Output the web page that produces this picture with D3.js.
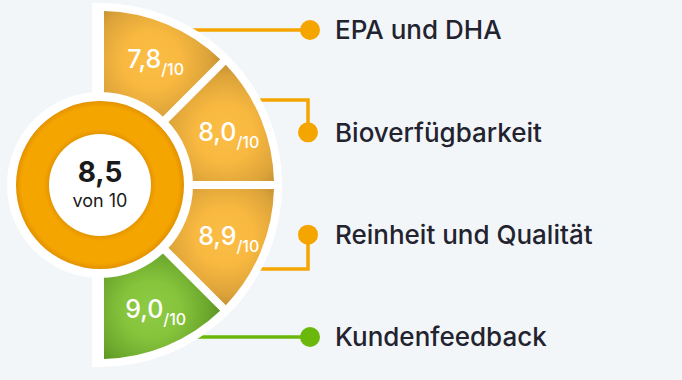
<!DOCTYPE html>
<html>
<head>
<meta charset="utf-8">
<script src="https://cdn.jsdelivr.net/npm/d3@7"></script>
<style>
  html, body { margin: 0; padding: 0; background: #f3f6f9; }
  svg { display: block; font-family: Inter, Roboto, "Noto Sans", sans-serif; }
</style>
</head>
<body>
<svg id="chart" width="682" height="380"></svg>
<script>
// ---- data ----
const categories = ["EPA und DHA", "Bioverfügbarkeit", "Reinheit und Qualität", "Kundenfeedback"];
const scores = [7.8, 8.0, 8.9, 9.0];
const maxScore = 10;
const overallScore = 8.5;
const overallLabel = "von 10";
const highlightCategory = "Kundenfeedback";

// ---- layout ----
const cx = 100, cy = 185;
const rOuter = 174, rInner = 92;
const svg = d3.select("#chart");
const fmt = v => d3.format(".1f")(v).replace(".", ",");

const orangeLine = "#f5a500", greenLine = "#6ab80c";
const isHi = c => c === highlightCategory;

const pie = d3.pie().value(() => 1).sort(null).startAngle(0).endAngle(Math.PI);
const arcs = pie(scores.map((s, i) => ({ score: s, cat: categories[i] })));
const arc = d3.arc().innerRadius(rInner).outerRadius(rOuter).padAngle(0.08).padRadius(100);
const labelArc = d3.arc().innerRadius(135).outerRadius(135);

const defs = svg.append("defs");
arcs.forEach((a, i) => {
  const [gx, gy] = labelArc.centroid(a);
  const g = defs.append("radialGradient").attr("id", "g" + i)
    .attr("gradientUnits", "userSpaceOnUse")
    .attr("cx", gx).attr("cy", gy).attr("r", 82);
  const stops = isHi(a.data.cat)
    ? [[0, "#8fcb46"], [0.35, "#86c43c"], [0.7, "#6aa62c"], [1, "#4a8419"]]
    : [[0, "#fbbd46"], [0.35, "#f9b940"], [0.7, "#dca33a"], [1, "#ae7f28"]];
  stops.forEach(([o, c]) => g.append("stop").attr("offset", o).attr("stop-color", c));
});
const ringG = defs.append("radialGradient").attr("id", "ring")
  .attr("gradientUnits", "userSpaceOnUse").attr("cx", 0).attr("cy", 0).attr("r", 84);
[[0.6, "#e39400"], [0.67, "#f5a500"], [0.93, "#f5a500"], [1, "#e29200"]]
  .forEach(([o, c]) => ringG.append("stop").attr("offset", o).attr("stop-color", c));

// ---- connectors ----
const yDot = d3.scalePoint().domain(categories).range([30, 337]);
const anchorY = [cy - 155, cy - 85, cy + 84, cy + 152];
const dotX = categories.map((c, i) => Math.abs(anchorY[i] - yDot(c)) > 2 ? 308 : 310);
const conn = svg.append("g");
categories.forEach((c, i) => {
  const col = isHi(c) ? greenLine : orangeLine;
  const dy = yDot(c);
  const elbow = Math.abs(anchorY[i] - dy) > 2;
  const path = elbow
    ? `M${cx + 100},${anchorY[i]}H${dotX[i]}V${dy}`
    : `M${cx + 60},${dy}H${dotX[i]}`;
  conn.append("path").attr("d", path).attr("fill", "none")
    .attr("stroke", col).attr("stroke-width", 3.5);
});

// ---- white backing ----
const backing = d3.arc().innerRadius(0).outerRadius(rOuter).startAngle(0).endAngle(Math.PI);
svg.append("path").attr("transform", `translate(${cx},${cy})`)
  .attr("d", backing()).attr("fill", "#fff").attr("stroke", "#fff")
  .attr("stroke-width", 16).attr("stroke-linejoin", "miter");

// dots + labels
categories.forEach((c, i) => {
  const col = isHi(c) ? greenLine : orangeLine;
  const dy = yDot(c);
  svg.append("circle").attr("cx", dotX[i]).attr("cy", dy).attr("r", 10).attr("fill", col);
  svg.append("text").attr("x", 335).attr("y", dy).attr("dy", "0.36em")
    .attr("font-size", 26).attr("font-weight", 500).attr("fill", "#23232f").text(c);
});

// ---- sectors ----
svg.append("g").attr("transform", `translate(${cx},${cy})`)
  .selectAll("path").data(arcs).join("path")
  .attr("d", arc)
  .attr("fill", (d, i) => `url(#g${i})`);

// sector value labels
arcs.forEach(a => {
  const [lx, ly] = labelArc.centroid(a);
  const t = svg.append("text").attr("x", cx + lx + 4).attr("y", cy + ly + 8)
    .attr("text-anchor", "middle").attr("fill", "#fff");
  t.append("tspan").attr("font-size", 25).attr("font-weight", 500).text(fmt(a.data.score));
  t.append("tspan").attr("font-size", 16).attr("font-weight", 500).attr("dy", 7).text("/" + maxScore);
});

// ---- center circle ----
svg.append("circle").attr("cx", cx).attr("cy", cy).attr("r", 93).attr("fill", "#fff");
svg.append("path").attr("transform", `translate(${cx},${cy})`)
  .attr("d", d3.arc().innerRadius(51).outerRadius(84).startAngle(0).endAngle(2 * Math.PI)())
  .attr("fill", "url(#ring)");
svg.append("text").attr("x", cx).attr("y", cy - 3).attr("text-anchor", "middle")
  .attr("font-size", 28).attr("font-weight", 700).attr("fill", "#1a1a1a").text(fmt(overallScore));
svg.append("text").attr("x", cx).attr("y", cy + 22).attr("text-anchor", "middle")
  .attr("font-size", 18).attr("fill", "#1a1a1a").text(overallLabel);
</script>
</body>
</html>
